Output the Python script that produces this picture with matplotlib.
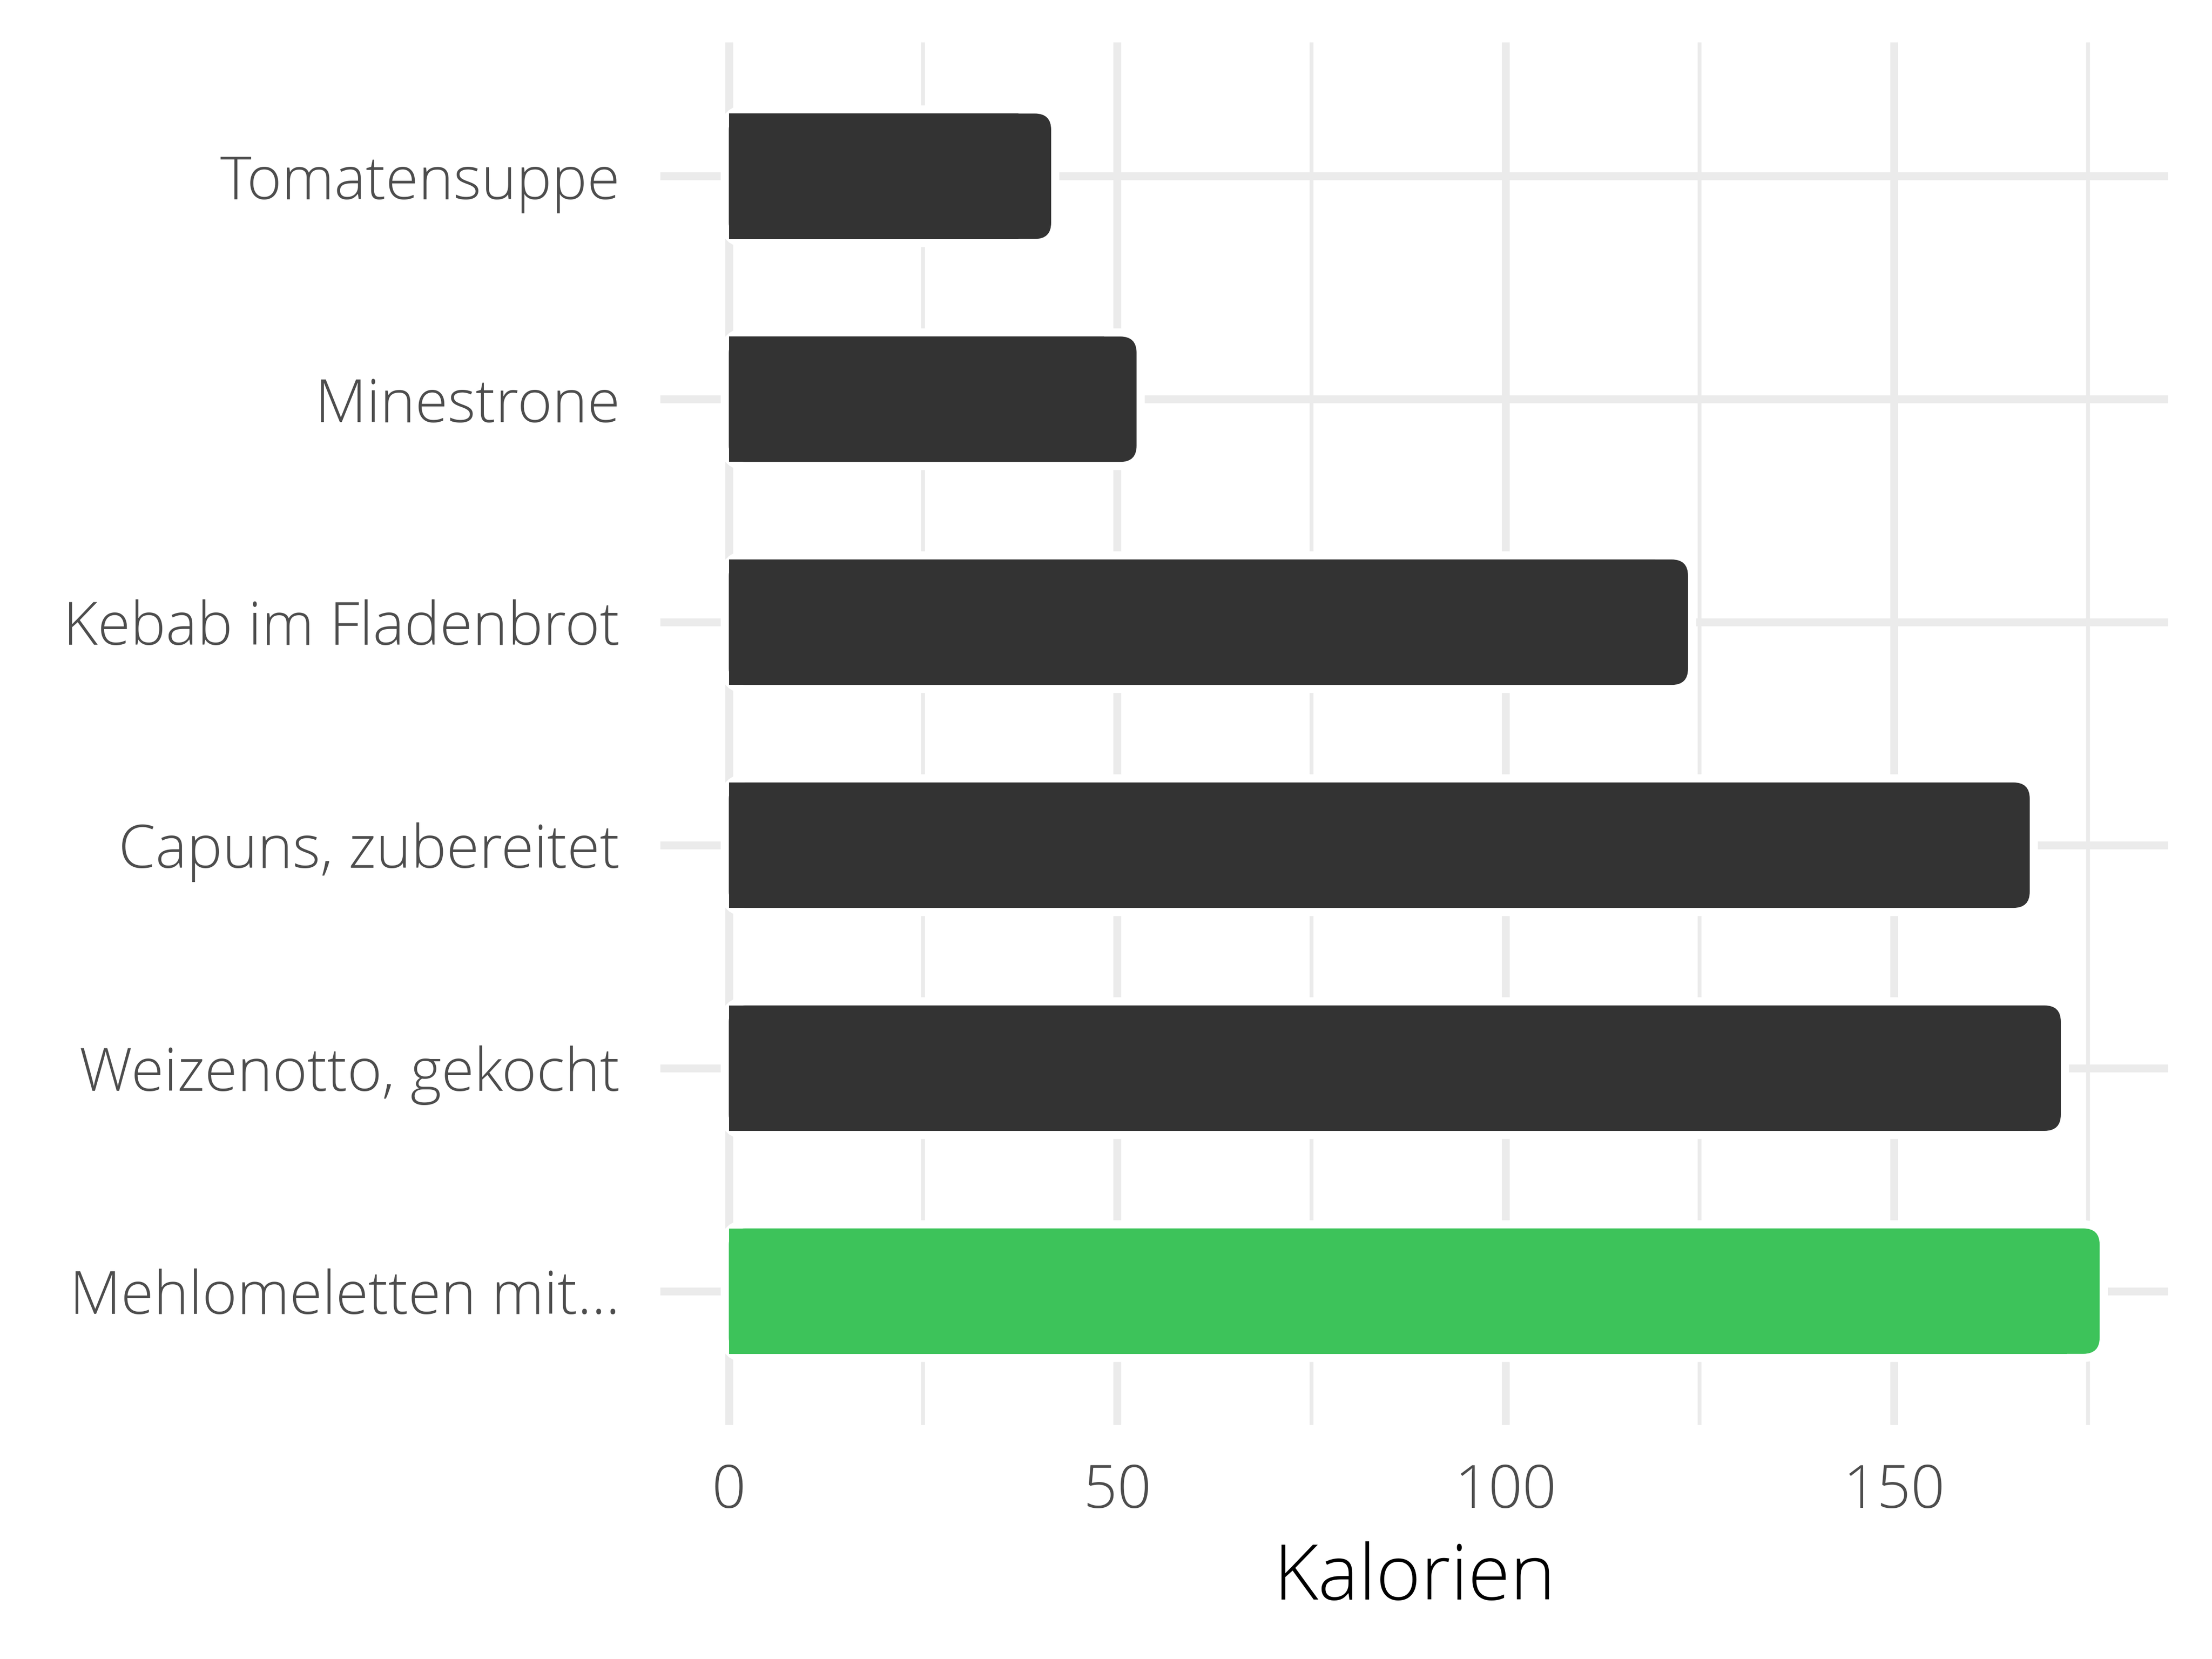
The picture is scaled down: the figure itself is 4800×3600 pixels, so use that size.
import matplotlib
matplotlib.use("Agg")
import matplotlib.pyplot as plt
from matplotlib.patches import FancyBboxPatch
import numpy as np

# data
speisen = ["Tomatensuppe", "Minestrone", "Kebab im Fladenbrot",
           "Capuns, zubereitet", "Weizenotto, gekocht", "Mehlomeletten mit..."]
kalorien = [41.5, 52.5, 123.5, 167.5, 171.5, 176.5]
farben = ["#333333", "#333333", "#333333", "#333333", "#333333", "#3DC35A"]
x_ticks = [0, 50, 100, 150]
x_minor = [25, 75, 125, 175]

plt.rcParams['font.family'] = ['Open Sans', 'DejaVu Sans']

fig = plt.figure(figsize=(16, 12), dpi=300)
ax = fig.add_axes([0.2985, 0.1411, 0.6817, 0.8333])

xmax = max(kalorien)
ax.set_xlim(-0.05 * xmax, 1.05 * xmax)
ax.set_ylim(len(speisen) - 1 + 0.6, -0.6)

# gitter
for v in x_ticks:
    ax.axvline(v, color="#EBEBEB", lw=4.1, zorder=0)
for v in x_minor:
    ax.axvline(v, color="#EBEBEB", lw=2.0, zorder=0)
for i in range(len(speisen)):
    ax.axhline(i, color="#EBEBEB", lw=4.1, zorder=0)

h = 0.5625
r = 2.1          # rundung in x-einheiten
asp = 0.0346     # y/x verhaeltnis fuer runde ecken
for i, (wert, f) in enumerate(zip(kalorien, farben)):
    # weisser rand
    rand = FancyBboxPatch((0, i - h / 2), wert, h,
                          boxstyle="round,pad=0,rounding_size=%f" % r,
                          mutation_aspect=asp, fc="white", ec="white",
                          lw=8.5, zorder=2)
    ax.add_patch(rand)
    p = FancyBboxPatch((0, i - h / 2), wert, h,
                       boxstyle="round,pad=0,rounding_size=%f" % r,
                       mutation_aspect=asp, fc=f, ec="none", lw=0, zorder=3)
    ax.add_patch(p)
ax.barh(range(len(speisen)), [w - 2 * r for w in kalorien], height=h,
        color=farben, zorder=3)

ax.set_yticks(range(len(speisen)))
ax.set_yticklabels(speisen)
ax.set_xticks(x_ticks)
ax.set_xticklabels([str(t) for t in x_ticks])
ax.tick_params(axis="both", length=0, labelsize=31, labelcolor="#4D4D4D")
ax.tick_params(axis="y", pad=21)
ax.tick_params(axis="x", pad=19.5)
for lab in ax.get_xticklabels() + ax.get_yticklabels():
    lab.set_fontweight("light")
ax.set_xlabel("Kalorien", fontsize=40, color="black", labelpad=10, fontweight="light")

for s in ax.spines.values():
    s.set_visible(False)

fig.savefig("out.png", dpi=300, facecolor="white")
